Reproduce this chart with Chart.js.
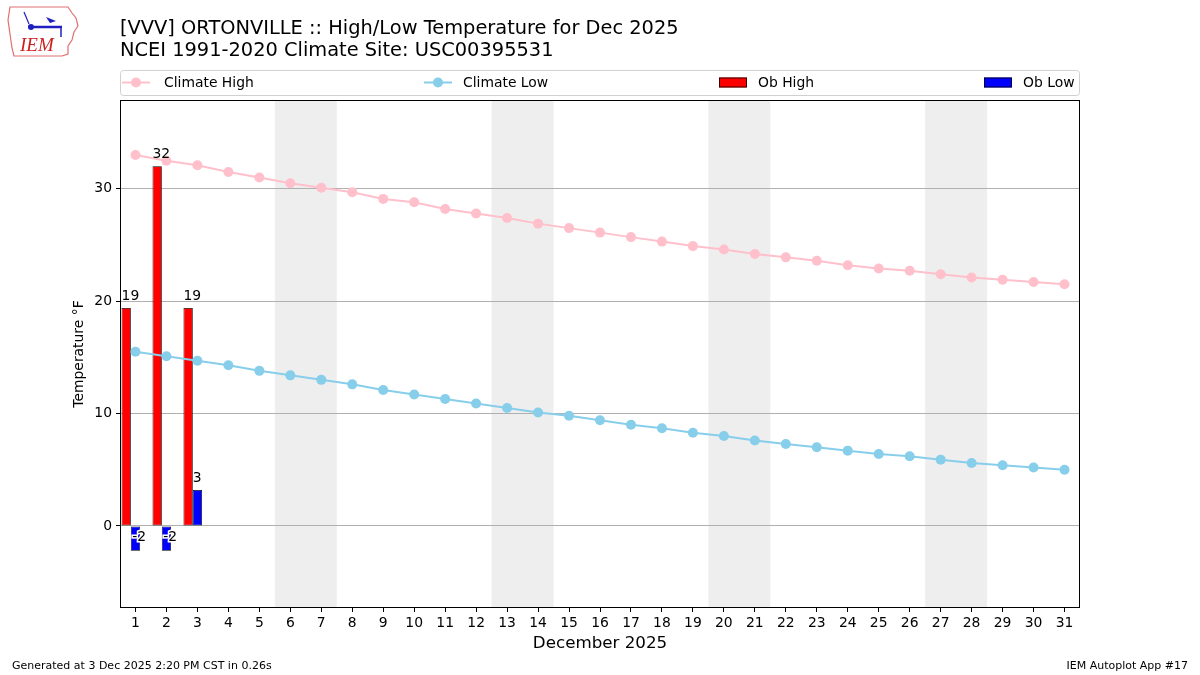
<!DOCTYPE html>
<html>
<head>
<meta charset="utf-8">
<script src="https://cdn.jsdelivr.net/npm/chart.js@4.4.1/dist/chart.umd.min.js"></script>
<style>
  html, body { margin: 0; padding: 0; background: #fff; }
  #wrap { position: relative; width: 1200px; height: 675px; font-family: 'DejaVu Sans', sans-serif; }
  #c { position: absolute; left: 0; top: 0; }
  .title { position: absolute; left: 120px; top: 17px; font-size: 19.4px; line-height: 22px; color: #000; }
  .foot { position: absolute; top: 659px; font-size: 11px; color: #000; }
  #logo { position: absolute; left: 6px; top: 4px; }
</style>
</head>
<body>
<div id="wrap">
  <canvas id="c" width="1200" height="675"></canvas>
  <svg id="logo" width="76" height="56" viewBox="0 0 76 56">
    <path d="M4 3 L62 3 L66 9 L70 14 L72 22 L68 28 L66 36 L62 42 L62 50 L56 52 L8 52 L6 44 L4 30 L2 16 Z"
          fill="none" stroke="#e07070" stroke-width="1.2"/>
    <line x1="22" y1="23" x2="56" y2="23" stroke="#2020c0" stroke-width="2.5"/>
    <circle cx="25" cy="23" r="3" fill="#2020c0"/>
    <path d="M40 13 L50 17 L44 19 Z" fill="#2020c0"/>
    <line x1="18" y1="8" x2="23" y2="20" stroke="#2020c0" stroke-width="1.2"/>
    <line x1="55" y1="23" x2="55" y2="33" stroke="#2020c0" stroke-width="1.5"/>
    <text x="14" y="47" font-family="'Liberation Serif', serif" font-style="italic" font-size="19" fill="#cc2020">IEM</text>
  </svg>
  <div class="title">[VVV] ORTONVILLE :: High/Low Temperature for Dec 2025<br>NCEI 1991-2020 Climate Site: USC00395531</div>
  <div class="foot" style="left:12px;">Generated at 3 Dec 2025 2:20 PM CST in 0.26s</div>
  <div class="foot" style="right:12px;">IEM Autoplot App #17</div>
</div>
<script>
// days of December 2025
const days = Array.from({ length: 31 }, (_, i) => String(i + 1));

// NCEI 1991-2020 daily climatology (°F)
const climateHigh = [33.0, 32.5, 32.1, 31.5, 31.0, 30.5, 30.1, 29.7, 29.1, 28.8,
                     28.2, 27.8, 27.4, 26.9, 26.5, 26.1, 25.7, 25.3, 24.9, 24.6,
                     24.2, 23.9, 23.6, 23.2, 22.9, 22.7, 22.4, 22.1, 21.9, 21.7, 21.5];
const climateLow  = [15.5, 15.1, 14.7, 14.3, 13.8, 13.4, 13.0, 12.6, 12.1, 11.7,
                     11.3, 10.9, 10.5, 10.1, 9.8, 9.4, 9.0, 8.7, 8.3, 8.0,
                     7.6, 7.3, 7.0, 6.7, 6.4, 6.2, 5.9, 5.6, 5.4, 5.2, 5.0];

// observations so far
const obHigh = [19.4, 32.0, 19.4];
const obLow  = [-2.2, -2.2, 3.2];

// weekend spans [first day, last day]
const weekends = [[6, 7], [13, 14], [20, 21], [27, 28]];
const yTicks = [0, 10, 20, 30];

const pad = (arr) => days.map((_, i) => (i < arr.length ? arr[i] : null));

const FONT = "'DejaVu Sans', sans-serif";
const FS = 13.9;

const weekendShade = {
  id: 'weekendShade',
  beforeDraw(chart) {
    const { ctx, chartArea: a, scales: { x } } = chart;
    ctx.save();
    ctx.fillStyle = '#eeeeee';
    weekends.forEach(([d0, d1]) => {
      const x0 = x.getPixelForValue(d0 - 1 - 0.5);
      const x1 = x.getPixelForValue(d1 - 1 + 0.5);
      ctx.fillRect(x0, a.top, x1 - x0, a.bottom - a.top);
    });
    ctx.restore();
  },
};

const frameAndLabels = {
  id: 'frameAndLabels',
  afterDatasetsDraw(chart) {
    const { ctx, chartArea: a } = chart;
    ctx.save();
    ctx.font = FS + 'px ' + FONT;
    ctx.textAlign = 'left';
    chart.data.datasets.forEach((ds, di) => {
      if (ds.type !== 'bar' || !ds.label) return;
      const meta = chart.getDatasetMeta(di);
      meta.data.forEach((el, i) => {
        const v = ds.data[i];
        if (v === null || v === undefined) return;
        const txt = String(Math.round(v));
        const left = el.x - el.width / 2;
        if (v >= 0) {
          ctx.textBaseline = 'bottom';
          ctx.fillStyle = '#000';
          ctx.fillText(txt, left, el.y - 5);
        } else {
          ctx.textBaseline = 'top';
          ctx.lineWidth = 3;
          ctx.strokeStyle = '#fff';
          ctx.strokeText(txt, left + 1.5, el.base + 4);
          ctx.fillStyle = '#000';
          ctx.fillText(txt, left + 1.5, el.base + 4);
        }
      });
    });
    ctx.strokeStyle = '#000';
    ctx.lineWidth = 1;
    ctx.strokeRect(a.left + 0.5, a.top + 0.5, a.right - a.left - 1, a.bottom - a.top - 1);
    ctx.restore();
  },
  afterDraw(chart) {
    // matplotlib-like legend box above the plot
    const { ctx, chartArea: a } = chart;
    const top = 70, h = 25, cy = top + h / 2;
    const itemX = [2, 304, 599, 864];
    ctx.save();
    ctx.beginPath();
    ctx.roundRect(a.left + 0.5, top + 0.5, a.right - a.left - 1, h, 3);
    ctx.fillStyle = 'rgba(255,255,255,0.8)';
    ctx.fill();
    ctx.strokeStyle = '#d0d0d0';
    ctx.lineWidth = 1;
    ctx.stroke();
    ctx.font = FS + 'px ' + FONT;
    ctx.textBaseline = 'middle';
    ctx.textAlign = 'left';
    chart.data.datasets.filter((ds) => ds.label).forEach((ds, i) => {
      const x = a.left + itemX[i];
      if (ds.type === 'line') {
        ctx.strokeStyle = ds.borderColor;
        ctx.lineWidth = 2;
        ctx.beginPath();
        ctx.moveTo(x, cy);
        ctx.lineTo(x + 28, cy);
        ctx.stroke();
        ctx.fillStyle = ds.borderColor;
        ctx.beginPath();
        ctx.arc(x + 14, cy, 5, 0, Math.PI * 2);
        ctx.fill();
      } else {
        ctx.fillStyle = ds.backgroundColor;
        ctx.fillRect(x, cy - 5, 28, 10);
        ctx.strokeStyle = '#000';
        ctx.lineWidth = 0.8;
        ctx.strokeRect(x + 0.5, cy - 4.5, 27, 9);
      }
      ctx.fillStyle = '#000';
      ctx.fillText(ds.label, x + (i === 0 ? 42 : 39), cy + 1);
    });
    ctx.restore();
  },
};

const barStyle = {
  type: 'bar', order: 1, borderColor: '#000', borderWidth: 0.8, borderSkipped: false,
  categoryPercentage: 0.9, barPercentage: 1.0,
};

new Chart(document.getElementById('c'), {
  type: 'bar',
  data: {
    labels: days,
    datasets: [
      {
        type: 'line', label: 'Climate High', data: climateHigh, order: 0,
        borderColor: '#ffc0cb', backgroundColor: '#ffc0cb', borderWidth: 2,
        pointRadius: 5, pointBorderWidth: 0, pointBackgroundColor: '#ffc0cb', tension: 0,
      },
      {
        type: 'line', label: 'Climate Low', data: climateLow, order: 0,
        borderColor: '#87ceeb', backgroundColor: '#87ceeb', borderWidth: 2,
        pointRadius: 5, pointBorderWidth: 0, pointBackgroundColor: '#87ceeb', tension: 0,
      },
      { ...barStyle, label: 'Ob High', data: pad(obHigh), backgroundColor: '#ff0000' },
      { ...barStyle, label: 'Ob Low', data: pad(obLow), backgroundColor: '#0000ff' },
      // empty slot so the high/low pair sits left of the day tick, as in the original
      { ...barStyle, label: '', data: pad([]), backgroundColor: 'rgba(0,0,0,0)', borderWidth: 0 },
    ],
  },
  options: {
    responsive: false,
    animation: false,
    layout: { padding: { left: 0, right: 120, top: 100, bottom: 0 } },
    plugins: {
      legend: { display: false },
      title: { display: false },
      tooltip: { enabled: false },
    },
    scales: {
      x: {
        offset: true,
        grid: { display: true, drawOnChartArea: false, drawTicks: true, tickLength: 4,
                color: '#000', offset: false },
        border: { display: false },
        ticks: { color: '#000', font: { family: FONT, size: FS }, padding: 3,
                 maxRotation: 0, autoSkip: false },
        title: { display: true, text: 'December 2025', color: '#000',
                 font: { family: FONT, size: 16.7 }, padding: { top: 0, bottom: 21 } },
        afterFit(s) { s.height = 67; },
      },
      y: {
        min: -7.3,
        max: 37.9,
        afterBuildTicks(s) { s.ticks = yTicks.map((v) => ({ value: v })); },
        grid: { color: '#b0b0b0', lineWidth: 1, drawTicks: true, tickLength: 4, tickColor: '#000' },
        border: { display: false },
        ticks: { color: '#000', font: { family: FONT, size: FS }, padding: 4 },
        title: { display: true, text: 'Temperature °F', color: '#000',
                 font: { family: FONT, size: FS }, padding: { top: 71, bottom: 0 } },
        afterFit(s) { s.width = 120; },
      },
    },
  },
  plugins: [weekendShade, frameAndLabels],
});
</script>
</body>
</html>
